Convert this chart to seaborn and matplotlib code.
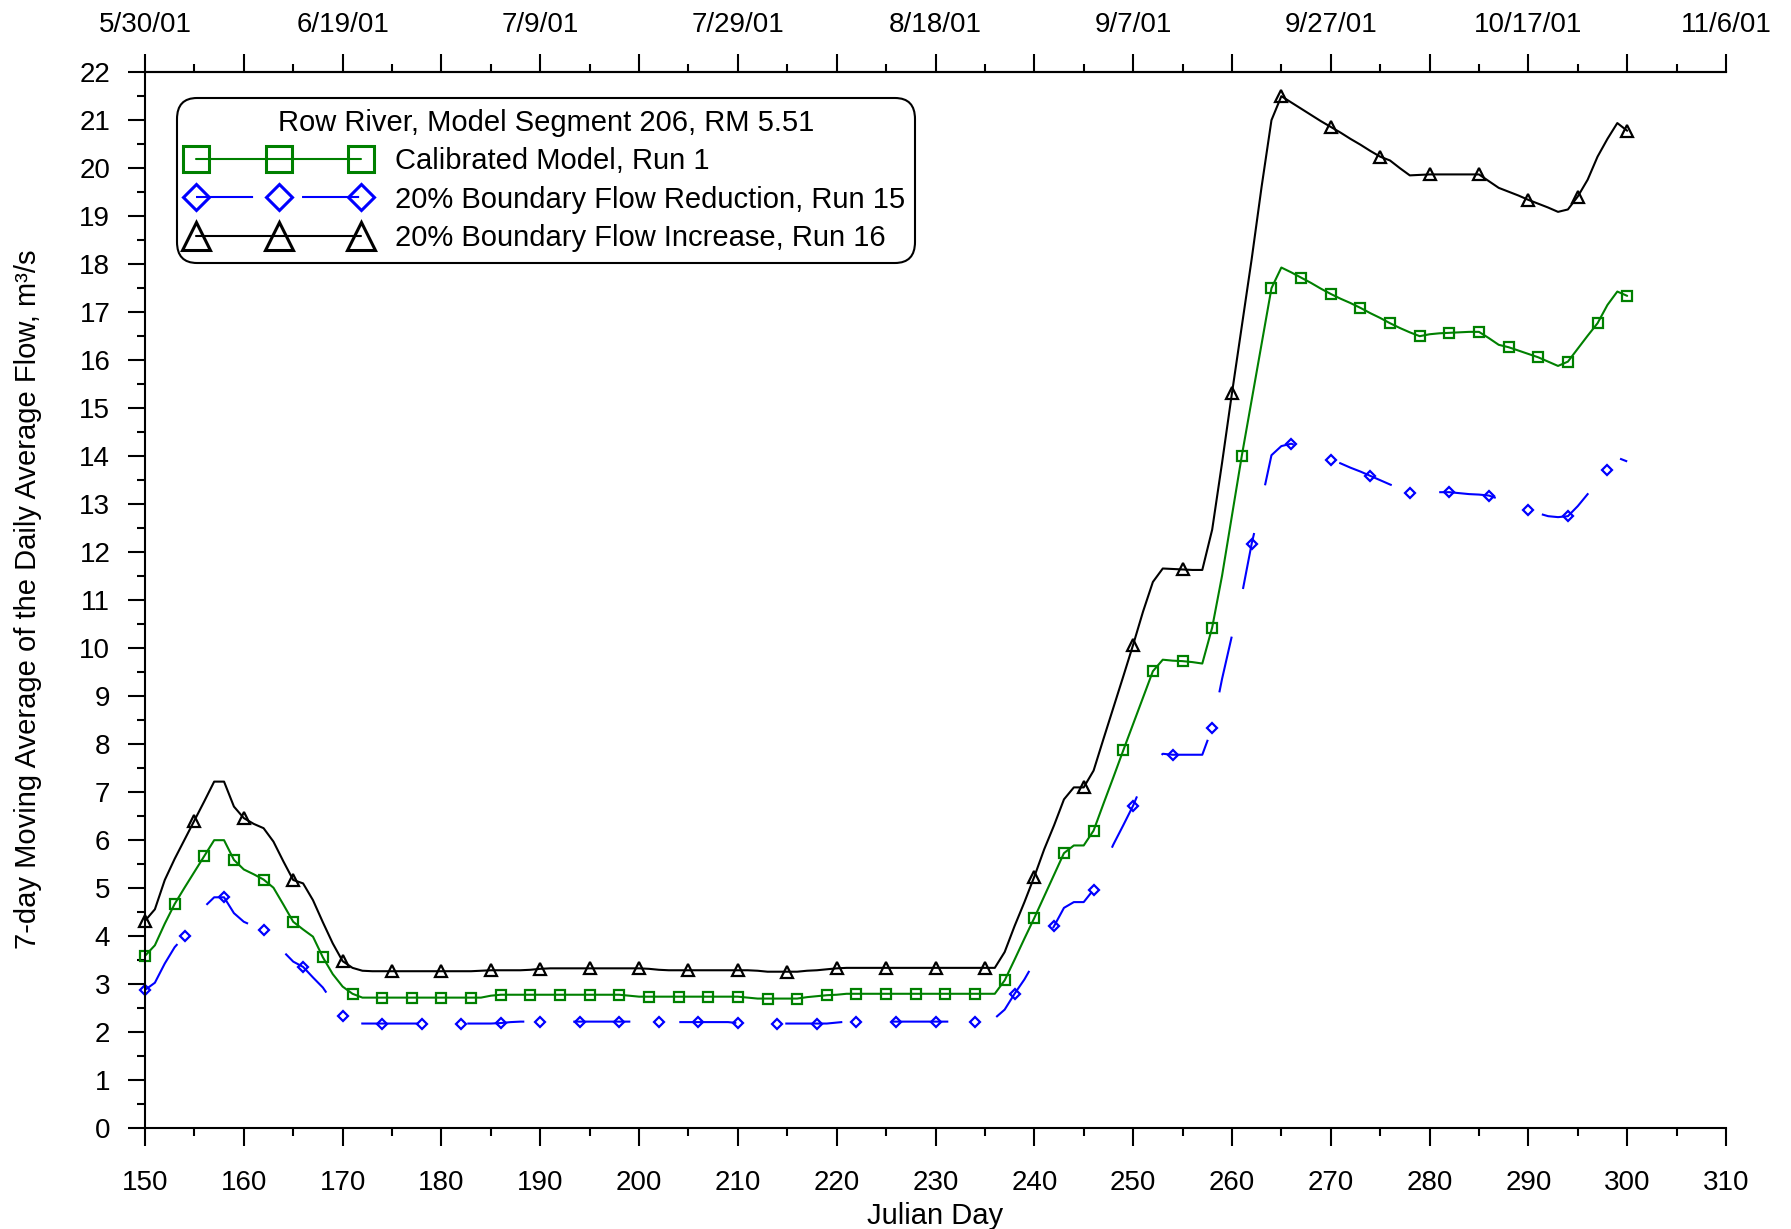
import matplotlib
matplotlib.use("Agg")
import matplotlib.pyplot as plt
import seaborn as sns
from matplotlib.ticker import MultipleLocator

# ---------------- data ----------------
julian_day = list(range(150, 301))

calibrated_run1 = [
    3.58, 3.80, 4.25, 4.66, 5.00, 5.33, 5.66, 5.99, 5.99, 5.58,
    5.38, 5.28, 5.17, 5.00, 4.65, 4.29, 4.13, 3.98, 3.55, 3.20,
    2.94, 2.79, 2.71, 2.71, 2.71, 2.71, 2.71, 2.71, 2.71, 2.71,
    2.71, 2.71, 2.71, 2.71, 2.71, 2.75, 2.77, 2.77, 2.77, 2.77,
    2.77, 2.77, 2.77, 2.77, 2.77, 2.77, 2.77, 2.77, 2.77, 2.75,
    2.73, 2.73, 2.73, 2.73, 2.73, 2.73, 2.73, 2.73, 2.73, 2.73,
    2.73, 2.71, 2.69, 2.69, 2.69, 2.69, 2.69, 2.72, 2.74, 2.76,
    2.77, 2.79, 2.79, 2.79, 2.79, 2.79, 2.79, 2.79, 2.79, 2.79,
    2.79, 2.79, 2.79, 2.79, 2.79, 2.79, 2.79, 3.07, 3.50, 3.94,
    4.37, 4.82, 5.27, 5.72, 5.88, 5.88, 6.19, 6.75, 7.30, 7.86,
    8.41, 8.96, 9.51, 9.75, 9.73, 9.72, 9.70, 9.67, 10.42, 11.50,
    12.75, 14.00, 15.16, 16.32, 17.49, 17.92, 17.82, 17.71, 17.60, 17.48,
    17.37, 17.27, 17.18, 17.08, 16.97, 16.87, 16.76, 16.66, 16.57, 16.49,
    16.53, 16.55, 16.56, 16.57, 16.58, 16.58, 16.45, 16.31, 16.26, 16.19,
    16.12, 16.05, 15.96, 15.87, 15.96, 16.23, 16.50, 16.76, 17.14, 17.42,
    17.33,
]

reduction_run15 = [
    2.87, 3.02, 3.42, 3.76, 3.99, 4.30, 4.60, 4.80, 4.80, 4.47,
    4.29, 4.20, 4.12, 3.90, 3.67, 3.46, 3.35, 3.13, 2.92, 2.62,
    2.33, 2.20, 2.17, 2.17, 2.17, 2.17, 2.17, 2.17, 2.17, 2.17,
    2.17, 2.17, 2.17, 2.17, 2.17, 2.17, 2.18, 2.20, 2.21, 2.21,
    2.21, 2.21, 2.21, 2.21, 2.21, 2.21, 2.21, 2.21, 2.21, 2.21,
    2.21, 2.20, 2.20, 2.20, 2.20, 2.20, 2.20, 2.20, 2.20, 2.20,
    2.18, 2.17, 2.17, 2.17, 2.17, 2.17, 2.17, 2.17, 2.17, 2.17,
    2.19, 2.21, 2.21, 2.21, 2.21, 2.21, 2.21, 2.21, 2.21, 2.21,
    2.21, 2.21, 2.21, 2.21, 2.21, 2.21, 2.28, 2.46, 2.79, 3.09,
    3.45, 3.85, 4.20, 4.58, 4.70, 4.70, 4.96, 5.45, 5.90, 6.30,
    6.71, 7.20, 7.60, 7.79, 7.77, 7.77, 7.77, 7.77, 8.33, 9.35,
    10.25, 11.10, 12.17, 13.05, 14.01, 14.20, 14.25, 14.17, 14.09, 14.00,
    13.92, 13.84, 13.75, 13.67, 13.58, 13.49, 13.40, 13.32, 13.23, 13.24,
    13.24, 13.24, 13.24, 13.22, 13.20, 13.19, 13.17, 13.10, 13.02, 12.95,
    12.87, 12.80, 12.74, 12.72, 12.74, 12.95, 13.20, 13.45, 13.70, 13.96,
    13.88,
]

increase_run16 = [
    4.31, 4.55, 5.16, 5.60, 6.00, 6.40, 6.80, 7.21, 7.21, 6.69,
    6.45, 6.33, 6.24, 5.96, 5.55, 5.16, 5.09, 4.74, 4.28, 3.84,
    3.47, 3.33, 3.27, 3.26, 3.26, 3.26, 3.26, 3.26, 3.26, 3.26,
    3.26, 3.26, 3.26, 3.26, 3.27, 3.28, 3.28, 3.28, 3.28, 3.29,
    3.31, 3.32, 3.32, 3.32, 3.32, 3.32, 3.32, 3.32, 3.32, 3.32,
    3.32, 3.31, 3.29, 3.28, 3.28, 3.28, 3.28, 3.28, 3.28, 3.28,
    3.28, 3.28, 3.27, 3.25, 3.25, 3.25, 3.25, 3.27, 3.28, 3.30,
    3.32, 3.33, 3.33, 3.33, 3.33, 3.33, 3.33, 3.33, 3.33, 3.33,
    3.33, 3.33, 3.33, 3.33, 3.33, 3.33, 3.33, 3.66, 4.20, 4.70,
    5.23, 5.80, 6.30, 6.84, 7.09, 7.09, 7.44, 8.10, 8.75, 9.40,
    10.06, 10.75, 11.37, 11.65, 11.64, 11.63, 11.62, 11.62, 12.46, 13.85,
    15.30, 16.70, 18.10, 19.60, 20.99, 21.49, 21.36, 21.23, 21.10, 20.97,
    20.85, 20.73, 20.60, 20.48, 20.35, 20.23, 20.15, 19.99, 19.84, 19.85,
    19.86, 19.86, 19.86, 19.86, 19.86, 19.86, 19.72, 19.58, 19.50, 19.42,
    19.33, 19.25, 19.17, 19.08, 19.13, 19.40, 19.75, 20.23, 20.60, 20.93,
    20.77,
]

legend_title = "Row River, Model Segment 206, RM 5.51"
series_labels = [
    "Calibrated Model, Run 1",
    "20% Boundary Flow Reduction, Run 15",
    "20% Boundary Flow Increase, Run 16",
]
bottom_ticks = list(range(150, 311, 10))
top_tick_days = list(range(150, 311, 20))
top_tick_labels = ["5/30/01", "6/19/01", "7/9/01", "7/29/01", "8/18/01",
                   "9/7/01", "9/27/01", "10/17/01", "11/6/01"]
y_ticks = list(range(0, 23))
x_label = "Julian Day"
y_label = "7-day Moving Average of the Daily Average Flow, m³/s"

# ---------------- style ----------------
sns.set_style("ticks", rc={
    "axes.edgecolor": "black", "xtick.color": "black", "ytick.color": "black",
    "text.color": "black", "axes.labelcolor": "black",
})
plt.rcParams["font.family"] = ["Liberation Sans", "DejaVu Sans"]
plt.rcParams["axes.linewidth"] = 1.5

GREEN = "#008000"
BLUE = "#0000FF"
BLACK = "#000000"

fig = plt.figure(figsize=(17.91, 12.29), dpi=100)
W, H = 1791.0, 1229.0
ax = fig.add_axes([145 / W, (H - 1127.7) / H, 1581 / W, 1056 / H])

common = dict(ax=ax, lw=1.5, markerfacecolor="none", clip_on=False)
sns.lineplot(x=julian_day, y=calibrated_run1, color=GREEN, marker="s",
             markersize=7.8, markeredgecolor=GREEN, markeredgewidth=1.6,
             markevery=slice(0, None, 3), **common)
sns.lineplot(x=julian_day, y=reduction_run15, color=BLUE, marker="D",
             markersize=5.6, markeredgecolor=BLUE, markeredgewidth=1.6,
             linestyle=(0, (27.4, 23.5)),
             markevery=slice(0, None, 4), **common)
sns.lineplot(x=julian_day, y=increase_run16, color=BLACK, marker="^",
             markersize=8.5, markeredgecolor=BLACK, markeredgewidth=1.6,
             markevery=slice(0, None, 5), **common)

ax.set_xlim(150, 310)
ax.set_ylim(0, 22)
ax.spines["right"].set_visible(False)
ax.spines["top"].set_visible(True)

ax.set_xticks(bottom_ticks)
ax.xaxis.set_minor_locator(MultipleLocator(5))
ax.set_yticks(y_ticks)
ax.yaxis.set_minor_locator(MultipleLocator(0.5))
ax.tick_params(axis="x", which="major", direction="out", length=13.2, width=1.5,
               labelsize=20, pad=17)
ax.tick_params(axis="x", which="minor", direction="out", length=6, width=1.5)
ax.tick_params(axis="y", which="major", direction="out", length=12, width=1.5,
               labelsize=20, pad=13)
ax.tick_params(axis="y", which="minor", direction="out", length=6, width=1.5)

# top date axis
top_map = dict(zip(top_tick_days, top_tick_labels))
secax = ax.secondary_xaxis("top")
secax.set_xticks(bottom_ticks, labels=[top_map.get(d, "") for d in bottom_ticks])
secax.xaxis.set_minor_locator(MultipleLocator(5))
secax.tick_params(which="major", direction="out", length=13.2, width=1.5,
                  labelsize=20, pad=11.4)
secax.tick_params(which="minor", direction="out", length=6, width=1.5)
secax.spines["top"].set_linewidth(1.5)

ax.set_xlabel(x_label, fontsize=21)
ax.xaxis.set_label_coords(0.5, -0.070)
ax.set_ylabel(y_label, fontsize=21)
ax.yaxis.set_label_coords(-0.065, 0.5)

handles = ax.get_lines()[:3]
leg = ax.legend(handles=handles, labels=series_labels, title=legend_title,
                loc="upper left", bbox_to_anchor=(0.0202, 0.975),
                borderaxespad=0, numpoints=3, handlelength=6.26,
                handletextpad=0.85, borderpad=0.36, labelspacing=0.36,
                fontsize=21, title_fontsize=21, markerscale=2.35,
                frameon=True, fancybox=True, edgecolor="black", framealpha=1)
leg.get_frame().set_boxstyle("round", pad=0, rounding_size=0.7)
leg.get_frame().set_linewidth(1.5)
for ln in leg.get_lines():
    ln.set_markevery(None)
    ln.set_markeredgewidth(2.2)

fig.savefig("out.png", dpi=100)
